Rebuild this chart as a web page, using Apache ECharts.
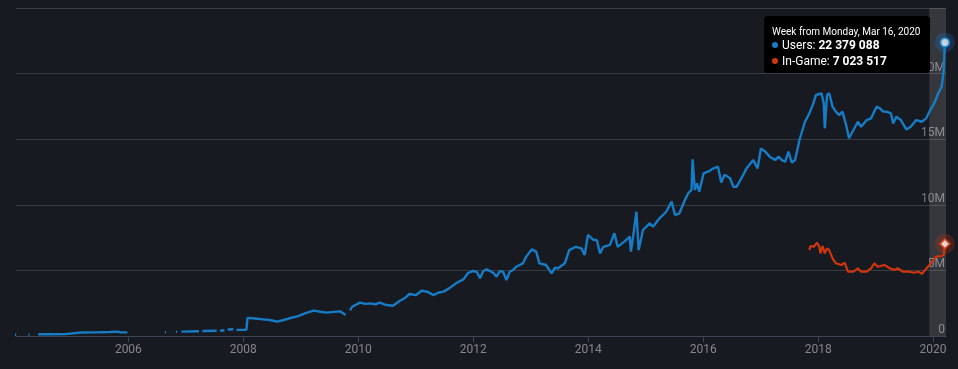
<!DOCTYPE html>
<html>
<head>
<meta charset="utf-8">
<script src="https://cdn.jsdelivr.net/npm/echarts@6/dist/echarts.min.js"></script>
<style>
html,body{margin:0;padding:0;background:#181a21;}
#chart{width:958px;height:369px;}
</style>
</head>
<body>
<div id="chart"></div>
<script>
// ---- data (values in millions) ----
const tickYears = [2006, 2008, 2010, 2012, 2014, 2016, 2018, 2020];

const userDates = [
'2004-01-12','2004-01-19','2004-02-16','2004-04-05','2004-04-12','2004-05-03',
'2004-06-07','2004-08-30','2004-11-29','2004-12-06','2005-03-07','2005-06-06','2005-09-05','2005-10-24','2005-11-07','2005-12-26','2006-02-06',
'2006-08-21','2006-08-28','2006-09-25','2006-10-30','2006-11-06','2006-11-20',
'2006-12-04','2007-03-26','2007-04-09','2007-04-16','2007-07-16','2007-07-30','2007-08-06','2007-09-03','2007-09-17',
'2007-09-24','2007-10-29','2007-11-12','2007-11-19','2008-01-21',
'2008-01-28','2008-03-17','2008-05-05','2008-06-16','2008-08-04','2008-09-08','2008-10-20','2008-12-15',
'2009-01-26','2009-03-23','2009-05-04','2009-06-15','2009-07-27','2009-09-07','2009-10-12','2009-10-26','2009-11-09','2009-11-23',
'2010-01-11','2010-02-15','2010-03-15','2010-04-19','2010-05-17','2010-06-28','2010-08-09','2010-09-20','2010-10-25','2010-11-22',
'2011-01-03','2011-02-07','2011-03-14','2011-04-25','2011-05-23','2011-06-27','2011-08-01','2011-09-19','2011-10-31','2011-11-28','2011-12-26',
'2012-01-23','2012-02-13','2012-03-05','2012-03-26','2012-05-07','2012-05-28','2012-06-18','2012-07-09','2012-07-30','2012-08-20','2012-09-10','2012-10-01','2012-10-22','2012-11-12','2012-12-03',
'2013-01-07','2013-02-04','2013-02-25','2013-04-08','2013-05-13','2013-06-03','2013-06-24','2013-08-05','2013-09-02','2013-10-14','2013-11-18','2013-12-09','2013-12-30',
'2014-02-03','2014-02-24','2014-03-17','2014-04-07','2014-05-19','2014-06-16','2014-07-07','2014-08-18','2014-09-22','2014-09-29','2014-10-13','2014-11-03','2014-11-17','2014-12-15',
'2015-01-26','2015-02-16','2015-03-30','2015-05-11','2015-06-15','2015-07-06','2015-08-03','2015-09-07','2015-09-28','2015-10-19','2015-10-26','2015-11-09','2015-11-23','2015-12-07',
'2016-01-04','2016-02-01','2016-03-07','2016-04-04','2016-04-25','2016-05-16','2016-06-20','2016-07-11','2016-08-01','2016-09-05','2016-10-03','2016-11-14','2016-12-12',
'2017-01-02','2017-01-30','2017-02-27','2017-04-03','2017-04-24','2017-05-15','2017-06-05','2017-06-26','2017-07-17','2017-08-07','2017-09-04','2017-10-09','2017-11-06','2017-11-27','2017-12-18',
'2018-01-22','2018-02-05','2018-02-12','2018-02-26','2018-03-12','2018-04-02','2018-04-23','2018-05-14','2018-06-04','2018-06-25','2018-07-16','2018-08-13','2018-09-10','2018-10-01','2018-11-05','2018-12-03',
'2019-01-07','2019-01-28','2019-02-18','2019-03-11','2019-04-08','2019-04-22','2019-05-13','2019-06-10','2019-07-15','2019-08-12','2019-09-16','2019-10-21','2019-11-18','2019-12-09',
'2020-01-13','2020-02-03','2020-02-24','2020-03-02','2020-03-09','2020-03-16'
];
const users = [
0.10,0.10,null,0.11,0.11,null,
0.13,0.13,0.14,0.26,0.27,0.28,0.30,0.33,0.29,0.28,null,
0.28,0.28,null,0.32,0.32,null,
0.33,0.36,null,0.38,0.40,null,0.42,0.42,null,
0.50,0.52,null,0.47,0.48,
1.38,1.33,1.27,1.22,1.09,1.20,1.35,1.52,
1.73,1.93,1.85,1.78,1.84,1.88,1.60,null,1.95,2.23,
2.54,2.45,2.49,2.42,2.54,2.36,2.31,2.67,2.90,3.20,
3.12,3.45,3.38,3.12,3.30,3.38,3.63,4.06,4.32,4.78,4.95,
4.90,4.40,4.95,5.08,4.82,4.52,4.95,4.90,4.27,4.90,5.03,5.28,5.41,5.54,6.05,
6.60,6.43,5.54,5.41,4.78,5.20,5.16,5.54,6.55,6.80,6.68,6.17,7.70,
7.32,7.32,6.30,6.80,6.94,7.83,6.80,7.19,7.57,6.43,7.57,9.47,6.55,8.08,
8.59,8.33,8.97,9.47,10.24,9.22,9.35,10.37,10.88,11.13,13.47,11.13,11.64,11.00,
12.40,12.52,12.78,12.90,11.70,12.30,12.02,11.38,11.38,12.14,12.78,13.41,12.78,
14.30,14.05,13.67,13.41,13.67,13.41,13.28,14.05,13.21,13.41,14.94,16.33,16.97,17.60,18.37,
18.50,17.73,15.83,18.37,18.50,17.48,17.10,16.84,17.10,16.20,15.07,15.70,16.33,15.95,16.46,16.59,
17.48,17.35,17.10,17.10,16.97,16.20,16.72,16.46,15.75,15.95,16.46,16.33,16.59,17.10,
17.86,18.50,19.00,19.60,20.40,22.379088
];

const gameDates = [
'2017-11-06','2017-11-13','2017-12-04','2017-12-25','2018-01-08','2018-01-15','2018-01-29','2018-02-12','2018-02-26','2018-03-12',
'2018-04-02','2018-04-23','2018-05-28','2018-06-18','2018-07-09','2018-08-13','2018-09-10','2018-10-01','2018-11-05','2018-12-03','2018-12-24',
'2019-01-14','2019-02-25','2019-04-01','2019-04-29','2019-05-20','2019-06-24','2019-08-05','2019-09-02','2019-09-30','2019-10-21','2019-11-11','2019-12-09',
'2020-01-20','2020-02-24','2020-03-09','2020-03-16'
];
const inGame = [
6.55,6.86,6.80,7.11,6.80,6.30,6.86,6.30,6.68,6.55,
5.92,5.54,5.41,5.59,4.90,4.90,5.16,4.90,4.90,5.16,5.54,
5.28,5.41,5.16,5.03,5.16,4.90,4.90,4.82,4.90,4.73,5.03,5.41,
6.05,6.10,6.20,7.023517
];

const axisRange = ['2004-01-18', '2020-03-23'];
const highlightWeek = ['2019-12-08', '2020-04-19'];

// ---- build ----
const BLUE = '#177cc6', RED = '#d0360e';
function ts(s) { const p = s.split('-').map(Number); return Date.UTC(p[0], p[1] - 1, p[2]); }
const usersData = userDates.map((d, i) => [ts(d), users[i] === null ? '-' : users[i]]);
const gameData = gameDates.map((d, i) => [ts(d), inGame[i]]);
const lastU = usersData[usersData.length - 1];
const lastG = gameData[gameData.length - 1];
const tickTimes = tickYears.map(y => Date.UTC(y, 0, 1));

const MONTHS = ['Jan','Feb','Mar','Apr','May','Jun','Jul','Aug','Sep','Oct','Nov','Dec'];
const DAYS = ['Sunday','Monday','Tuesday','Wednesday','Thursday','Friday','Saturday'];
function fmtNum(v) {
  return String(Math.round(v * 1e6)).replace(/\B(?=(\d{3})+(?!\d))/g, ' ');
}
function fmtDate(t) {
  const d = new Date(t);
  return DAYS[d.getUTCDay()] + ', ' + MONTHS[d.getUTCMonth()] + ' ' + d.getUTCDate() + ', ' + d.getUTCFullYear();
}

const chart = echarts.init(document.getElementById('chart'), null, {renderer: 'canvas'});
const FONT = 'Roboto, "Liberation Sans", sans-serif';
chart.setOption({
  backgroundColor: '#181a21',
  animation: false,
  textStyle: {fontFamily: FONT},
  grid: {left: 16, right: 12, top: 8, bottom: 33},
  tooltip: {
    trigger: 'item',
    alwaysShowContent: true,
    transitionDuration: 0,
    backgroundColor: '#000000',
    borderWidth: 0,
    padding: [10, 8, 3, 8],
    extraCssText: 'box-shadow:none;border-radius:4px;width:150px;',
    position: [764, 16],
    formatter: function () {
      const dot = c => '<span style="display:inline-block;width:6px;height:6px;border-radius:3px;background:' + c + ';margin-right:4px;vertical-align:middle;position:relative;top:-1px;"></span>';
      return '<div style="font-family:Roboto,sans-serif;color:#fff;">' +
        '<div style="font-size:10px;line-height:12px;">Week from ' + fmtDate(lastU[0]) + '</div>' +
        '<div style="font-size:12px;line-height:14px;">' + dot(BLUE) + 'Users: <b>' + fmtNum(lastU[1]) + '</b></div>' +
        '<div style="font-size:12px;line-height:18px;">' + dot(RED) + 'In-Game: <b>' + fmtNum(lastG[1]) + '</b></div>' +
        '</div>';
    }
  },
  xAxis: {
    type: 'value',
    min: ts(axisRange[0]),
    max: ts(axisRange[1]),
    axisLine: {lineStyle: {color: '#3b4658', width: 1}},
    axisTick: {show: true, length: 6, lineStyle: {color: '#3b4658'}, customValues: tickTimes},
    axisLabel: {
      color: '#85878c', fontSize: 12, fontFamily: FONT, margin: 8,
      customValues: tickTimes,
      formatter: v => String(new Date(v).getUTCFullYear())
    },
    splitLine: {show: false}
  },
  yAxis: {
    type: 'value',
    position: 'right',
    min: 0, max: 25, interval: 5,
    axisLine: {show: false},
    axisTick: {show: false},
    splitLine: {lineStyle: {color: '#3a3c41', width: 1}},
    axisLabel: {
      inside: true, margin: 1, verticalAlign: 'bottom',
      color: '#7a7c82', fontSize: 12, fontFamily: FONT,
      formatter: v => v === 0 ? '0' : (v === 25 ? '' : v + 'M')
    }
  },
  series: [
    {
      name: 'Users', type: 'line', data: usersData, showSymbol: false, clip: false,
      lineStyle: {color: BLUE, width: 2.4}, itemStyle: {color: BLUE}, z: 3, silent: true,
      markArea: {
        silent: true,
        itemStyle: {color: 'rgba(255,255,255,0.13)'},
        data: [[{xAxis: ts(highlightWeek[0])}, {xAxis: ts(highlightWeek[1])}]]
      }
    },
    {
      name: 'In-Game', type: 'line', data: gameData, showSymbol: false,
      lineStyle: {color: RED, width: 2.2}, itemStyle: {color: RED}, z: 3, silent: true
    },
    {
      name: 'usersHalo', type: 'scatter', data: [lastU], symbol: 'circle', symbolSize: 20,
      itemStyle: {color: 'rgba(23,124,198,0.3)'}, z: 4, silent: true, tooltip: {show: false}
    },
    {
      name: 'usersMarker', type: 'scatter', data: [lastU], symbol: 'circle', symbolSize: 9,
      itemStyle: {color: '#e6f2fb', borderColor: BLUE, borderWidth: 2}, z: 5,
      emphasis: {disabled: true}
    },
    {
      name: 'gameHalo', type: 'scatter', data: [lastG], symbol: 'circle', symbolSize: 20,
      itemStyle: {color: 'rgba(208,54,14,0.3)'}, z: 4, silent: true, tooltip: {show: false}
    },
    {
      name: 'gameMarker', type: 'scatter', data: [lastG], symbol: 'diamond', symbolSize: 10,
      itemStyle: {color: '#ffffff', borderColor: RED, borderWidth: 2}, z: 5,
      emphasis: {disabled: true}
    }
  ]
});
chart.dispatchAction({type: 'showTip', seriesIndex: 3, dataIndex: 0});
</script>
</body>
</html>
